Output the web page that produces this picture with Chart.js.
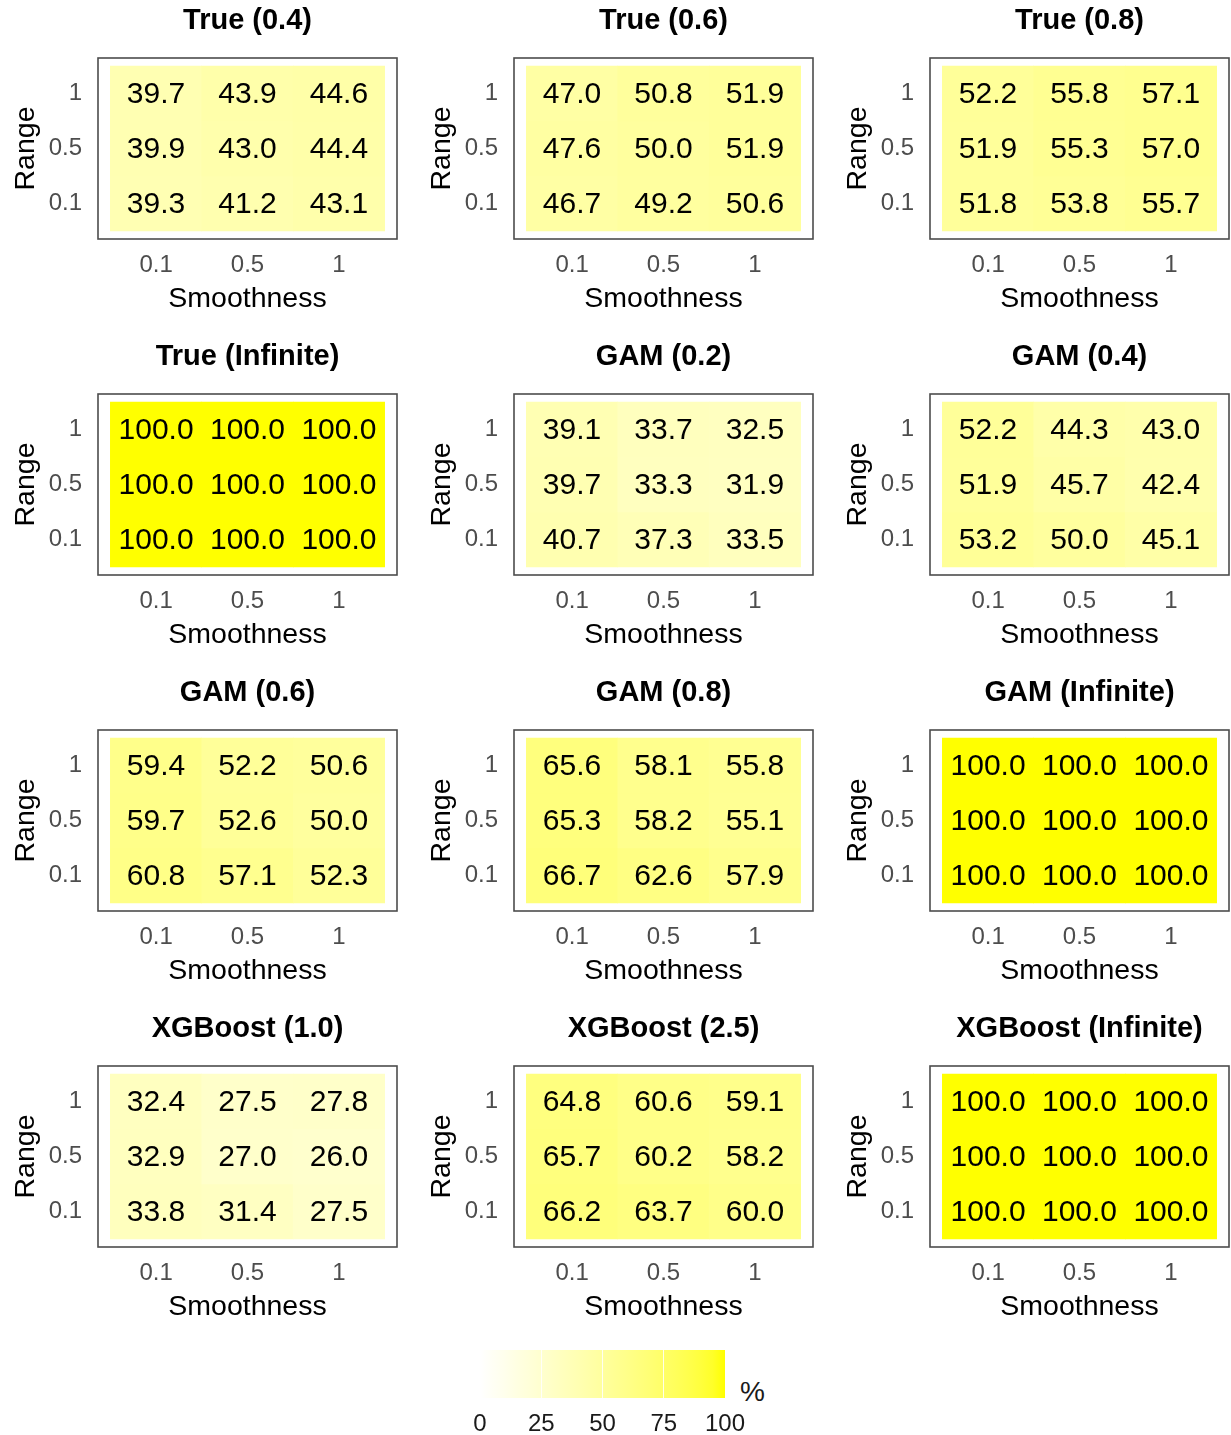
<!DOCTYPE html>
<html>
<head>
<meta charset="utf-8">
<script src="https://cdn.jsdelivr.net/npm/chart.js@4.4.1/dist/chart.umd.min.js"></script>
<style>
  body { margin: 0; background: #fff; }
  #wrap { position: relative; width: 1231px; height: 1435px; overflow: hidden; }
  #wrap canvas { position: absolute; }
  #pct { position: absolute; left: 740px; top: 1376px; font: 28px 'Liberation Sans', Arial, sans-serif; color: #1a1a1a; }
</style>
</head>
<body>
<div id="wrap">
  <div id="pct">%</div>
</div>
<script>

// axis categories (bottom to top for Range)
const smoothness = ['0.1', '0.5', '1'];
const ranges = ['0.1', '0.5', '1'];

const panelTitles = [
  'True (0.4)', 'True (0.6)', 'True (0.8)',
  'True (Infinite)', 'GAM (0.2)', 'GAM (0.4)',
  'GAM (0.6)', 'GAM (0.8)', 'GAM (Infinite)',
  'XGBoost (1.0)', 'XGBoost (2.5)', 'XGBoost (Infinite)'
];

// rows follow ranges: 0.1, 0.5, 1 ; columns follow smoothness
const true04 = [[39.3, 41.2, 43.1], [39.9, 43.0, 44.4], [39.7, 43.9, 44.6]];
const true06 = [[46.7, 49.2, 50.6], [47.6, 50.0, 51.9], [47.0, 50.8, 51.9]];
const true08 = [[51.8, 53.8, 55.7], [51.9, 55.3, 57.0], [52.2, 55.8, 57.1]];
const trueInf = [[100.0, 100.0, 100.0], [100.0, 100.0, 100.0], [100.0, 100.0, 100.0]];
const gam02 = [[40.7, 37.3, 33.5], [39.7, 33.3, 31.9], [39.1, 33.7, 32.5]];
const gam04 = [[53.2, 50.0, 45.1], [51.9, 45.7, 42.4], [52.2, 44.3, 43.0]];
const gam06 = [[60.8, 57.1, 52.3], [59.7, 52.6, 50.0], [59.4, 52.2, 50.6]];
const gam08 = [[66.7, 62.6, 57.9], [65.3, 58.2, 55.1], [65.6, 58.1, 55.8]];
const gamInf = [[100.0, 100.0, 100.0], [100.0, 100.0, 100.0], [100.0, 100.0, 100.0]];
const xgb10 = [[33.8, 31.4, 27.5], [32.9, 27.0, 26.0], [32.4, 27.5, 27.8]];
const xgb25 = [[66.2, 63.7, 60.0], [65.7, 60.2, 58.2], [64.8, 60.6, 59.1]];
const xgbInf = [[100.0, 100.0, 100.0], [100.0, 100.0, 100.0], [100.0, 100.0, 100.0]];

const panelValues = [
  true04, true06, true08,
  trueInf, gam02, gam04,
  gam06, gam08, gamInf,
  xgb10, xgb25, xgbInf
];

const legendTicks = [0, 25, 50, 75, 100];

const FONT = "'Liberation Sans', Arial, sans-serif";
Chart.defaults.font.family = FONT;

// white -> yellow, mixed in Lab like ggplot's gradient
function toLab(rgb){
  const lin = rgb.map(c => { c /= 255; return c <= 0.04045 ? c / 12.92 : Math.pow((c + 0.055) / 1.055, 2.4); });
  const x = (0.4124 * lin[0] + 0.3576 * lin[1] + 0.1805 * lin[2]) / 0.95047;
  const y = 0.2126 * lin[0] + 0.7152 * lin[1] + 0.0722 * lin[2];
  const z = (0.0193 * lin[0] + 0.1192 * lin[1] + 0.9505 * lin[2]) / 1.08883;
  const f = t => t > 0.008856 ? Math.cbrt(t) : 7.787 * t + 16 / 116;
  return [116 * f(y) - 16, 500 * (f(x) - f(y)), 200 * (f(y) - f(z))];
}

function fromLab(lab){
  const fy = (lab[0] + 16) / 116, fx = fy + lab[1] / 500, fz = fy - lab[2] / 200;
  const inv = t => t * t * t > 0.008856 ? t * t * t : (t - 16 / 116) / 7.787;
  const x = inv(fx) * 0.95047, y = inv(fy), z = inv(fz) * 1.08883;
  const lin = [
    3.2406 * x - 1.5372 * y - 0.4986 * z,
    -0.9689 * x + 1.8758 * y + 0.0415 * z,
    0.0557 * x - 0.2040 * y + 1.0570 * z
  ];
  return lin.map(c => {
    c = Math.min(1, Math.max(0, c));
    c = c <= 0.0031308 ? 12.92 * c : 1.055 * Math.pow(c, 1 / 2.4) - 0.055;
    return Math.round(c * 255);
  });
}

const LOW = toLab([255, 255, 255]);
const HIGH = toLab([255, 255, 0]);

function fillColour(v){
  const t = Math.min(1, Math.max(0, v / 100));
  const rgb = fromLab(LOW.map((l, k) => l + (HIGH[k] - l) * t));
  return `rgb(${rgb[0]},${rgb[1]},${rgb[2]})`;
}

// box round the panel
const frame = {
  id: 'frame',
  afterDraw(chart){
    const a = chart.chartArea;
    const ctx = chart.ctx;
    ctx.save();
    ctx.strokeStyle = '#4d4d4d';
    ctx.lineWidth = 1.6;
    ctx.strokeRect(a.left, a.top, a.right - a.left, a.bottom - a.top);
    ctx.restore();
  }
};

// numbers in the tiles
const cellText = {
  id: 'cellText',
  afterDatasetsDraw(chart){
    const ctx = chart.ctx;
    const texts = chart.data.datasets[0].texts;
    ctx.save();
    ctx.fillStyle = '#000';
    ctx.font = '30px ' + FONT;
    ctx.textAlign = 'center';
    ctx.textBaseline = 'middle';
    chart.getDatasetMeta(0).data.forEach((bar, k) => {
      const p = bar.getCenterPoint();
      ctx.fillText(texts[k], p.x, p.y + 1);
    });
    ctx.restore();
  }
};

function makePanel(i){

  const canvas = document.createElement('canvas');
  canvas.width = 399;
  canvas.height = 336;
  canvas.style.left = (i % 3) * 416 + 'px';
  canvas.style.top = Math.floor(i / 3) * 336 + 'px';
  document.getElementById('wrap').appendChild(canvas);

  const cells = [];
  const colours = [];
  const texts = [];

  panelValues[i].forEach((row, r) => {
    row.forEach((v, c) => {
      cells.push({ x: c, y: [r - 0.5, r + 0.5] });
      colours.push(fillColour(v));
      texts.push(v.toFixed(1));
    });
  });

  new Chart(canvas, {
    type: 'bar',
    data: {
      datasets: [{
        data: cells,
        texts: texts,
        backgroundColor: colours,
        borderWidth: 0,
        barPercentage: 1,
        categoryPercentage: 1
      }]
    },
    options: {
      responsive: false,
      animation: false,
      layout: { padding: { top: 0, left: 0, right: 2, bottom: 0 } },
      plugins: {
        legend: { display: false },
        tooltip: { enabled: false },
        title: {
          display: true,
          text: panelTitles[i],
          fullSize: false,
          color: '#000',
          font: { size: 29, weight: 'bold' },
          padding: { top: 3.6, bottom: 19.6 }
        }
      },
      scales: {
        x: {
          type: 'linear',
          offset: false,
          min: -0.635,
          max: 2.635,
          afterBuildTicks: s => { s.ticks = smoothness.map((_, k) => ({ value: k })); },
          afterFit: s => { s.height = 97; },
          ticks: {
            callback: (v, k) => smoothness[k],
            color: '#4d4d4d',
            font: { size: 24 },
            padding: 12,
            maxRotation: 0,
            autoSkip: false
          },
          grid: { display: false, drawTicks: false, tickLength: 0 },
          border: { display: false },
          title: {
            display: true,
            text: 'Smoothness',
            color: '#000',
            font: { size: 28.5 },
            padding: { top: 0, bottom: 19.9 }
          }
        },
        y: {
          type: 'linear',
          min: -0.645,
          max: 2.645,
          afterBuildTicks: s => { s.ticks = ranges.map((_, k) => ({ value: k })); },
          afterFit: s => { s.width = 98; },
          ticks: {
            callback: (v, k) => ranges[k],
            color: '#4d4d4d',
            font: { size: 24 },
            padding: 16,
            autoSkip: false
          },
          grid: { display: false, drawTicks: false, tickLength: 0 },
          border: { display: false },
          title: {
            display: true,
            text: 'Range',
            color: '#000',
            font: { size: 28.5 },
            padding: { top: 9.5, bottom: 0 }
          }
        }
      }
    },
    plugins: [frame, cellText]
  });

}

for(let i = 0; i < panelTitles.length; i++){
  makePanel(i);
}

// colour bar legend
const legendCanvas = document.createElement('canvas');
legendCanvas.width = 340;
legendCanvas.height = 97;
legendCanvas.style.left = '440px';
legendCanvas.style.top = '1338px';
document.getElementById('wrap').appendChild(legendCanvas);

new Chart(legendCanvas, {
  type: 'bar',
  data: {
    labels: ['%'],
    datasets: [{
      data: [[legendTicks[0], legendTicks[legendTicks.length - 1]]],
      backgroundColor: (c) => {
        const area = c.chart.chartArea;
        if(!area) return fillColour(50);
        const g = c.chart.ctx.createLinearGradient(area.left, 0, area.right, 0);
        for(let k = 0; k <= 20; k++){
          g.addColorStop(k / 20, fillColour(k * 5));
        }
        return g;
      },
      borderWidth: 0,
      barPercentage: 1,
      categoryPercentage: 1
    }]
  },
  options: {
    indexAxis: 'y',
    responsive: false,
    animation: false,
    layout: { padding: { left: 40, right: 55, top: 12, bottom: 0 } },
    plugins: {
      legend: { display: false },
      tooltip: { enabled: false }
    },
    scales: {
      x: {
        type: 'linear',
        min: 0,
        max: 100,
        afterBuildTicks: s => { s.ticks = legendTicks.map(v => ({ value: v })); },
        afterFit: s => { s.height = 37; },
        ticks: {
          color: '#1a1a1a',
          font: { size: 24 },
          padding: 12,
          maxRotation: 0,
          autoSkip: false
        },
        grid: {
          color: c => (c.tick && c.tick.value > 0 && c.tick.value < 100) ? 'rgba(255,255,255,0.85)' : 'rgba(0,0,0,0)',
          drawTicks: false,
          z: 1
        },
        border: { display: false }
      },
      y: { display: false }
    }
  }
});

</script>
</body>
</html>
